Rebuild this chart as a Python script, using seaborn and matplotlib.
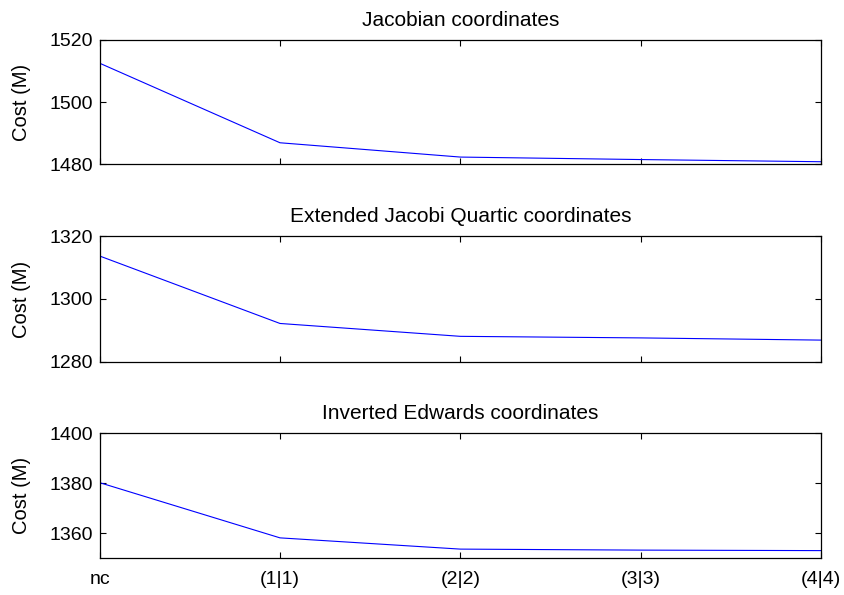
import pandas as pd
import matplotlib
matplotlib.use("Agg")
import matplotlib.pyplot as plt
import seaborn as sns

# -------------------------------
# Data
# -------------------------------
levels = ["nc", "(1|1)", "(2|2)", "(3|3)", "(4|4)"]
jacobian = [1512.5, 1486.9, 1482.3, 1481.5, 1480.8]
ext_jacobi_quartic = [1313.7, 1292.2, 1288.1, 1287.6, 1286.9]
inverted_edwards = [1380.2, 1358.1, 1353.6, 1353.2, 1353.0]

panels = [
    ("Jacobian coordinates", jacobian, (1480, 1520), [1480, 1500, 1520]),
    ("Extended Jacobi Quartic coordinates", ext_jacobi_quartic, (1280, 1320), [1280, 1300, 1320]),
    ("Inverted Edwards coordinates", inverted_edwards, (1350, 1400), [1360, 1380, 1400]),
]

sns.set_style("ticks")
plt.rcParams['font.family'] = ['Liberation Sans', 'DejaVu Sans']
plt.rcParams['text.color'] = 'black'
plt.rcParams['axes.labelcolor'] = 'black'
plt.rcParams['xtick.color'] = 'black'
plt.rcParams['ytick.color'] = 'black'

fig = plt.figure(figsize=(8.44, 5.95), dpi=100)
# axes rectangles in figure fractions (left, bottom, width, height)
rects = [
    (0.118, 0.724, 0.855, 0.209),
    (0.118, 0.392, 0.855, 0.211),
    (0.118, 0.062, 0.855, 0.210),
]

for i, ((title, vals, ylim, yticks), rect) in enumerate(zip(panels, rects)):
    ax = fig.add_axes(rect)
    df = pd.DataFrame({'x': range(len(levels)), 'cost': vals})
    sns.lineplot(data=df, x='x', y='cost', ax=ax, color='#0000ff', linewidth=0.8)
    ax.set_xlim(0, len(levels) - 1)
    ax.set_ylim(*ylim)
    ax.set_yticks(yticks)
    ax.set_xticks(range(len(levels)))
    if i == len(panels) - 1:
        ax.set_xticklabels(levels)
    else:
        ax.set_xticklabels([])
    ax.set_xlabel("")
    ax.set_ylabel("Cost (M)", fontsize=14.5, labelpad=13)
    ax.set_title(title, fontsize=15, pad=10)
    ax.tick_params(direction='in', top=True, right=True, length=4, width=0.8,
                   labelsize=14)
    ax.tick_params(axis='y', pad=5)
    ax.tick_params(axis='x', pad=9)
    for s in ax.spines.values():
        s.set_linewidth(0.9)
        s.set_color('black')

fig.savefig("out.png", dpi=100)
